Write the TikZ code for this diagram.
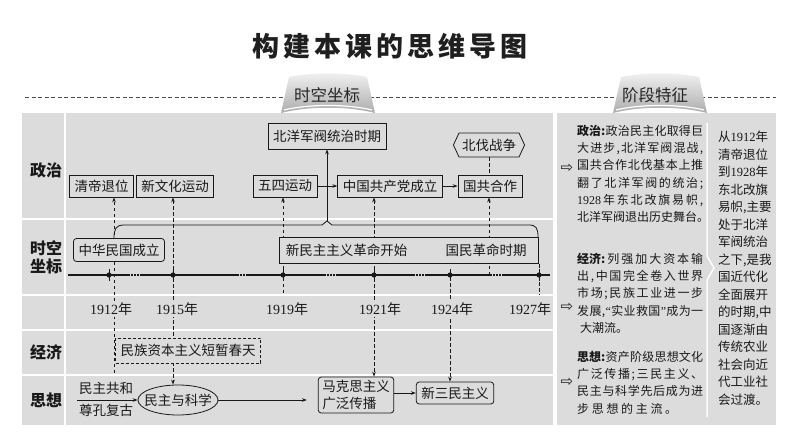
\documentclass[tikz,border=0pt]{standalone}
\usepackage{fontspec}
\setmainfont{Liberation Serif}
\newfontfamily\cjk{Noto Sans CJK SC}
\newfontfamily\symf{DejaVu Sans}
\usetikzlibrary{arrows.meta,shapes.geometric,shapes.symbols,calc}
\pgfdeclarelayer{bgl}
\pgfdeclarelayer{mid}
\pgfsetlayers{bgl,mid,main}
\definecolor{bg}{RGB}{220,220,220}
\definecolor{ink}{RGB}{25,25,25}
\def\spl#1{\ifx\end#1\else{#1}\hfil\expandafter\spl\fi}
\newcommand\jl[2][126pt]{\makebox[#1][s]{\spl#2\end\hskip 0pt plus -1fil}}
\begin{document}
\begin{tikzpicture}[x=1pt,y=-1pt,
  ar/.style={-{Stealth[length=5pt,width=3.6pt]}},
  ba/.style={{Stealth[length=5pt,width=3.6pt]}-{Stealth[length=5pt,width=3.6pt]}},
  bx/.style={draw=ink, line width=0.8pt, fill=bg, text=ink,
    font=\cjk\fontsize{13.5}{15}\selectfont, inner xsep=5pt, inner ysep=0pt, minimum height=22pt},
  rbx/.style={bx, rounded corners=3pt},
  dv/.style={draw=ink, line width=0.7pt, dash pattern=on 3.5pt off 2.5pt},
  lbl/.style={font=\cjk\bfseries\fontsize{16}{18}\selectfont, align=center, text=ink},
  yl/.style={font=\rmfamily\fontsize{14}{16}\selectfont, text=ink, fill=bg, inner xsep=1pt, inner ysep=2pt},
  plain/.style={font=\cjk\fontsize{13.5}{17}\selectfont, text=ink, inner sep=0pt},
  para/.style={font=\cjk\fontsize{12}{17.2}\selectfont, align=left, inner sep=0pt, text=ink},
  tabtxt/.style={font=\cjk\fontsize{16.5}{18}\selectfont, text=black!85},
  arr/.style={font=\symf\fontsize{15}{15}\selectfont, text=ink}
]
\useasboundingbox (0,0) rectangle (794,447);
\begin{pgfonlayer}{bgl}
  \fill[white] (0,0) rectangle (794,447);
  \fill[bg] (22,113) rectangle (553,425);
  \draw[white, line width=2pt] (65,113) -- (65,425);
  \foreach \yy in {219,295,330,375} \draw[white, line width=2pt] (22,\yy) -- (553,\yy);
  \fill[bg] (557,113) rectangle (776,425);
  \draw[white, line width=1.5pt] (707,123) -- (707,256) -- (714,268) -- (707,280) -- (707,417);
  \draw[black!70, line width=0.8pt, dash pattern=on 4pt off 2.5pt] (25,97) -- (776,97);
\end{pgfonlayer}

% tabs
\foreach \cx in {328,660}{
  \shade[top color=gray!10, bottom color=gray!65]
    (\cx-47,113) .. controls (\cx-20,106) and (\cx+20,106) .. (\cx+47,113)
    -- (\cx+39,77) .. controls (\cx+15,72) and (\cx-15,72) .. (\cx-39,77) -- cycle;
  \draw[white, line width=1.2pt] (\cx-44,110) .. controls (\cx-20,104) and (\cx+20,104) .. (\cx+44,110);
}
\node[tabtxt] (tab1) at (327,95) {时空坐标};
\node[tabtxt] (tab2) at (655,95) {阶段特征};

% title
\node[text=black!88] (title) at (390,46)
  {\cjk\bfseries\fontsize{27}{30}\selectfont\addfontfeature{LetterSpace=15}构建本课的思维导图};

% row labels
\node[lbl] (l1) at (46,170) {政治};
\node[lbl] (l2) at (46,257) {时空\\坐标};
\node[lbl] (l3) at (46,352) {经济};
\node[lbl] (l4) at (46,400) {思想};

% top row
\node[bx] (q1) at (101.5,186) {清帝退位};
\node[bx] (q2) at (175,186) {新文化运动};
\node[bx] (q3) at (285,186) {五四运动};
\node[bx] (q4) at (390,186) {中国共产党成立};
\node[bx] (q5) at (490,186) {国共合作};
\node[bx, minimum height=26pt] (bei) at (327,136) {北洋军阀统治时期};
\node[bx, signal, signal to=west and east, signal pointer angle=130,
      minimum height=24pt, inner xsep=3pt] (bf) at (489,145) {北伐战争};

% time row
\node[rbx, minimum height=23pt] (zh) at (119,250) {中华民国成立};
\node[bx, minimum width=259pt, minimum height=26pt] (xm) at (408.5,250) {};
\node[plain] (xm1) at (346.5,250) {新民主主义革命开始};
\node[plain] (xm2) at (486,250) {国民革命时期};

% economy
\node[bx, dash pattern=on 3pt off 2pt, minimum height=25pt] (ec) at (188,350.5) {民族资本主义短暂春天};

% thought
\node[plain] (mz1) at (106,388) {民主共和};
\node[plain] (mz2) at (106,410) {尊孔复古};
\coordinate (mz) at (77,400);
\node[ellipse, draw=ink, line width=0.8pt, fill=bg, minimum width=80pt, minimum height=30pt,
      inner sep=0pt, font=\cjk\fontsize{13.5}{15}\selectfont, text=ink] (el) at (178,400)
      {\makebox[20pt]{民主与科学}};
\node[rbx, align=left, font=\cjk\fontsize{13.5}{17}\selectfont, inner xsep=4pt, minimum height=36pt] (mk) at (356,395)
      {马克思主义\\广泛传播};
\node[rbx] (xs) at (455,393) {新三民主义};

% timeline and dashed links
\begin{pgfonlayer}{mid}
  \draw[ink, line width=1.4pt] (68,275) -- (128,275) (140,275) -- (237,275) (248,275) -- (324,275)
       (336,275) -- (413,275) (425,275) -- (490,275) (502,275) -- (550,275);
  \draw[ink, line width=1.4pt, dash pattern=on 1.5pt off 1.6pt] (128,275) -- (140,275) (237,275) -- (248,275)
       (324,275) -- (336,275) (413,275) -- (425,275) (490,275) -- (502,275);
  \foreach \xx in {109,173,283,374,450,539}{
    \fill[ink] (\xx,275) circle (2.6pt);
    \draw[ink, line width=0.8pt] (\xx,269) -- (\xx,281);
  }
  \coordinate (v1b) at (114,373);
  \draw[dv,ar] (v1b) -- (q1.south -| v1b);
  \coordinate (v2) at (173,300);
  \draw[dv,ba] (q2.south -| v2) -- (el.north -| v2);
  \coordinate (v3b) at (283,293);
  \draw[dv,ar] (v3b) -- (q3.south -| v3b);
  \coordinate (v4) at (374,300);
  \draw[dv,ba] (q4.south -| v4) -- (mk.north -| v4);
  \coordinate (v5b) at (489,275);
  \draw[dv,ar] (v5b) -- (q5.south -| v5b);
  \draw[dv] (bf.south) -- (q5.north -| bf.south);
  \coordinate (v6t) at (450,277);
  \draw[dv,ar] (v6t) -- (xs.north -| v6t);
  \coordinate (v7a) at (539,264);
  \coordinate (v7b) at (539,295);
  \draw[dv] (v7a) -- (v7b);
  % brace
  \coordinate (brL) at (114,238);
  \coordinate (brR) at (538,237);
  \coordinate (brT) at (327,221);
  \draw[ink, line width=0.8pt] (brL) .. controls (114,229) and (116,225) .. (124,225) -- (322,225)
       -- (brT) -- (332,225) -- (529,225) .. controls (536,225) and (538,228) .. (brR);
\end{pgfonlayer}
\draw[ink, line width=0.8pt, ar] (brT) -- (bei.south -| brT);

% years
\node[yl] (y1) at (111,309) {1912{\cjk 年}};
\node[yl] (y2) at (177,309) {1915{\cjk 年}};
\node[yl] (y3) at (287,309) {1919{\cjk 年}};
\node[yl] (y4) at (380,309) {1921{\cjk 年}};
\node[yl] (y5) at (452,309) {1924{\cjk 年}};
\node[yl] (y6) at (530,309) {1927{\cjk 年}};

% solid arrows
\draw[ink, line width=0.8pt, ar] (q3.east) -- (q4.west);
\draw[ink, line width=0.8pt, ar] (q4.east) -- (q5.west);
\draw[ink, line width=0.8pt, ar] (mz) -- (el.west);
\draw[ink, line width=0.8pt, ar, shorten >=11pt] (el.east) -- (mk.west |- el.east);
\draw[ink, line width=0.8pt, ar] (mk.east |- xs.west) -- (xs.west);

% right panel
\node[arr] (a1) at (567,168) {⇨};
\node[arr] (a2) at (567,307) {⇨};
\node[arr] (a3) at (567,382) {⇨};
\node[para, anchor=north west] (p1) at (577,125) {%
  \jl{{\bfseries 政治:}政治民主化取得巨}\\
  \jl{大进步,北洋军阀混战,}\\
  \jl{国共合作北伐基本上推}\\
  \jl{翻了北洋军阀的统治;}\\
  \jl{{\rmfamily 1928}年东北改旗易帜,}\\
  \jl{北洋军阀退出历史舞台。}};
\node[para, anchor=north west] (p2) at (577,253) {%
  \jl{{\bfseries 经济:}列强加大资本输}\\
  \jl{出,中国完全卷入世界}\\
  \jl{市场;民族工业进一步}\\
  \jl{发展,{\rmfamily “}实业救国{\rmfamily ”}成为一}\\
  \hspace*{3pt}大潮流。};
\node[para, anchor=north west] (p3) at (577,351) {%
  \jl{{\bfseries 思想:}资产阶级思想文化}\\
  \jl{广泛传播;三民主义、}\\
  \jl{民主与科学先后成为进}\\
  \jl[100pt]{步思想的主流。}};
\node[para, anchor=north west, font=\cjk\fontsize{12.5}{17.5}\selectfont] (p4) at (718,131) {%
  从{\rmfamily 1912}年\\清帝退位\\到{\rmfamily 1928}年\\东北改旗\\易帜,主要\\处于北洋\\军阀统治\\之下,是我\\
  国近代化\\全面展开\\的时期,中\\国逐渐由\\传统农业\\社会向近\\代工业社\\会过渡。};
\end{tikzpicture}
\end{document}
